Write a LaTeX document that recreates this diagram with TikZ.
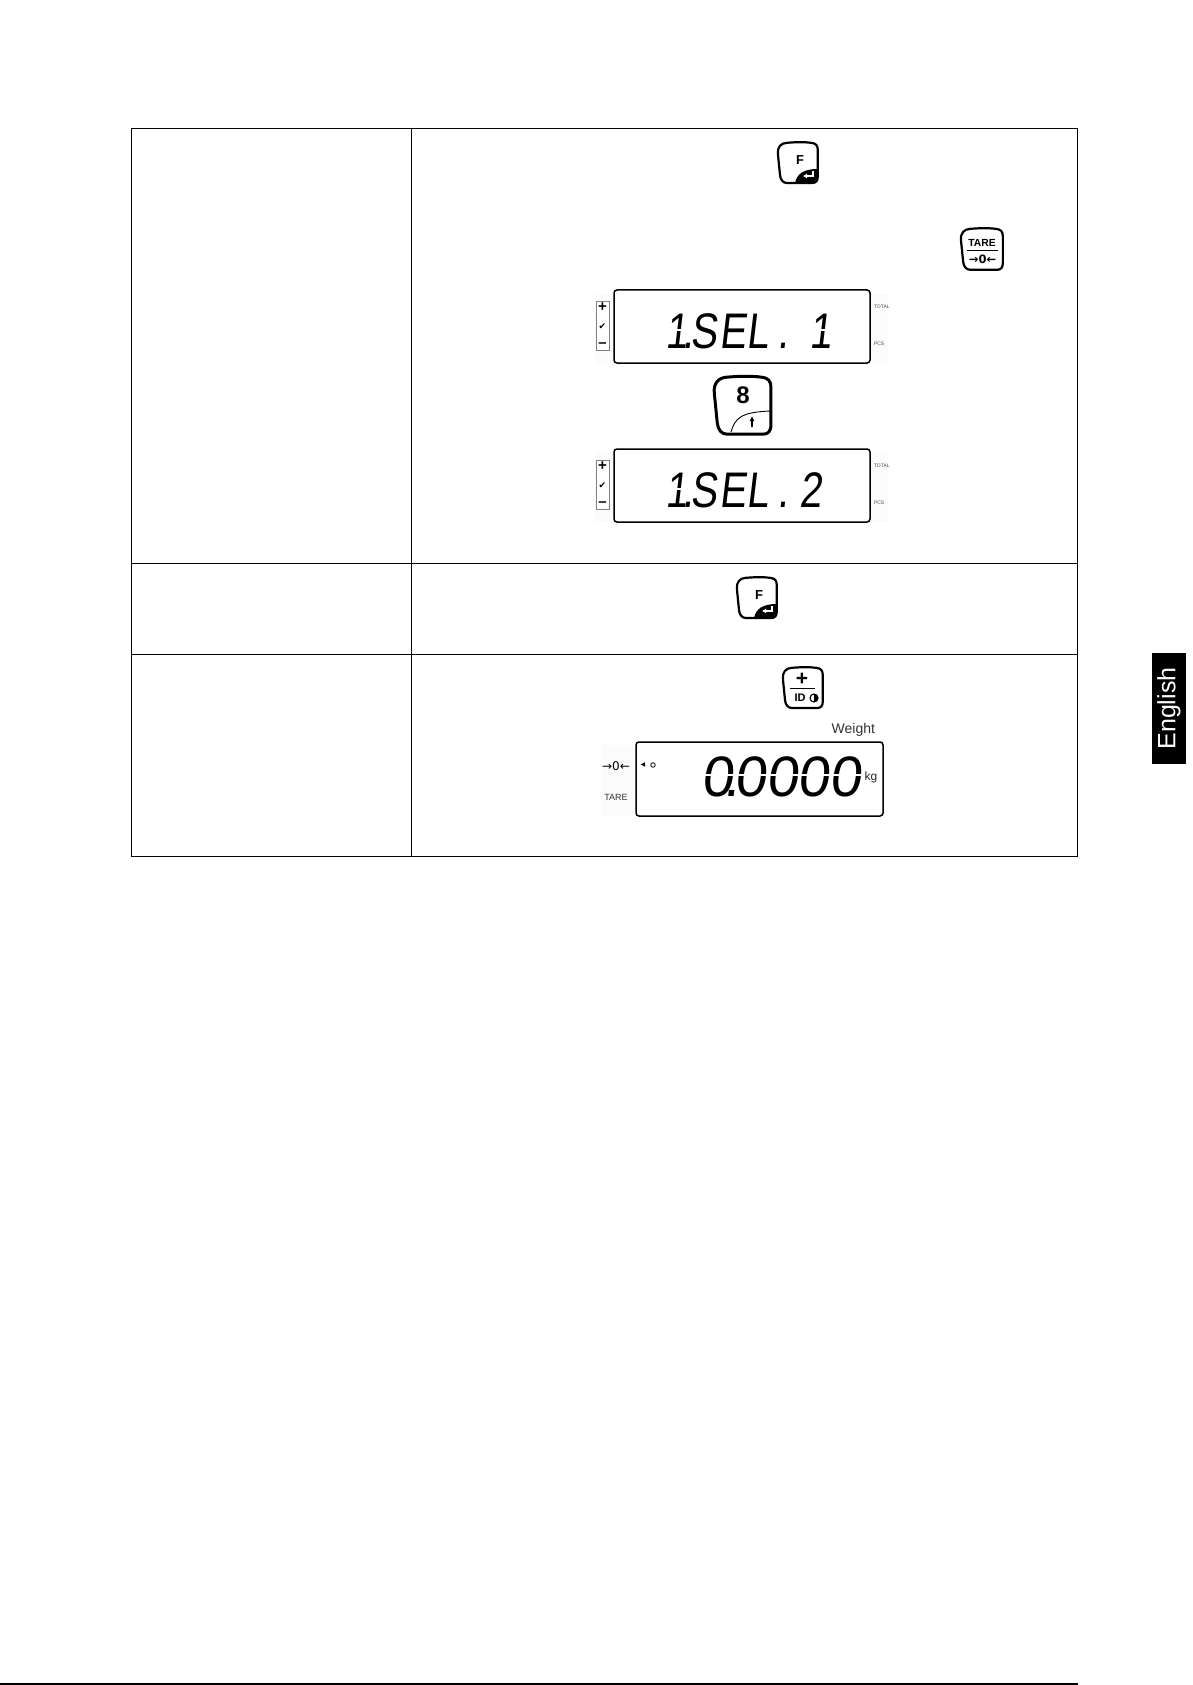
\documentclass[tikz,border=0pt]{standalone}
\usepackage{fontspec}
\setmainfont{Liberation Sans}
\newfontfamily\symfont{DejaVu Sans}
\newfontfamily\segfont[FakeStretch=.8,FakeSlant=.12]{Liberation Sans}
\newfontfamily\segwide[FakeSlant=.12]{Liberation Sans}
\usetikzlibrary{arrows.meta}
\newcommand{\sz}[1]{\fontsize{#1}{#1}\selectfont}
% outline of a key, 41 wide and high
\newcommand{\keyoutline}[1][]{\draw[keyline,#1] (10,0.8) .. controls (20,0) and (28,0) .. (34,0.8)
  .. controls (39,1.5) and (40.5,3) .. (40.8,8) -- (40.8,34) .. controls (40.8,39) and (39,41) .. (35,41)
  -- (10,41) .. controls (6,41) and (3.5,38) .. (3,33) -- (0.9,12) .. controls (0.2,5) and (4,1) .. (10,0.8) -- cycle;}
% F key, top left corner at (#1,#2)
\newcommand{\keyF}[3]{\begin{scope}[shift={(#1,#2)}]
 \fill (18,41) .. controls (20,32) and (26,27) .. (41,27) -- (41,36) -- (36,41) -- cycle;
 \keyoutline
 \node[t, font=\bfseries\sz{13}] (#3l) at (23,18) {F};
 \draw[{Latex[length=4pt,width=5pt]}-, white, line width=1.4pt] (26,34) -- (36,34) -- (36,29);
\end{scope}}
% display with the small signs, top left corner at (#1,#2)
\newcommand{\selbox}[3]{\begin{scope}[shift={(#1,#2)}]
 \fill[black!1.5] (-19,4) rectangle (274,73);
 \draw[lcd, fill=white] (0,0) rectangle (256,73);
 \draw[black!50, fill=white, line width=.7pt] (-18,11) rectangle (-5,60);
 \node[t, font=\bfseries\sz{15}] (#3p) at (-11.5,17.5) {+};
 \node[t, font=\symfont\bfseries\sz{9}] (#3c) at (-11.5,37) {✔};
 \node[t, font=\bfseries\sz{15}] (#3m) at (-11.5,55) {–};
 \node[t, font=\sz{5}, black!70, anchor=west] (#3t) at (260,17) {TOTAL};
 \node[t, font=\sz{5}, black!70, anchor=west] (#3s) at (260,54) {PCS};
\end{scope}}
\begin{document}
\begin{tikzpicture}[x=1pt, y=-1pt,
  t/.style={inner sep=0pt, outer sep=0pt},
  grid/.style={line width=.9pt},
  keyline/.style={line width=2.2pt},
  slit/.style={white, line width=1.4pt},
  lcd/.style={line width=1.5pt, rounded corners=3pt}]
 \useasboundingbox (0,0) rectangle (1192,1685);
 % table
 \draw[grid] (131,128) rectangle (1077,856);
 \draw[grid] (411.5,128) -- (411.5,856);
 \draw[grid] (131,563) -- (1077,563);
 \draw[grid] (131,654) -- (1077,654);
 % first row
 \keyF{777}{142}{fa}
 \begin{scope}[shift={(960,228)}]
  \keyoutline[xscale=1.05, yscale=1.02]
  \node[t, font=\bfseries\sz{10.3}] (tarel) at (22,15) {TARE};
  \draw[line width=1.4pt] (7,22.5) -- (38,22.5);
  \node[t, font=\symfont\bfseries\sz{11.5}] (tarez) at (22.5,31) {→0←};
 \end{scope}
 \selbox{614}{290}{da}
 \node[t, font=\segfont\sz{50}, anchor=base west] (sela) at (665,348) {1\kern-5pt.\kern-2.5ptS\kern2.3ptEL\kern9pt.\kern21pt 1};
 \draw[slit] (668,330) -- (688,330);
 \draw[slit] (812,330) -- (836,330);
 % up key
 \begin{scope}[shift={(713,376)}]
  \keyoutline[scale=1.42, line width=3pt]
  \draw[line width=.9pt] (18,56) .. controls (22,42) and (28,36) .. (58,35);
  \node[t, font=\bfseries\sz{24}] (upl) at (30,19) {8};
  \draw[-{Latex[length=5pt,width=5pt]}, line width=1.4pt] (39,51) -- (39,40);
 \end{scope}
 \selbox{614}{449}{db}
 \node[t, font=\segfont\sz{50}, anchor=base west] (selb) at (665,507) {1\kern-5pt.\kern-2.5ptS\kern2.3ptEL\kern9pt.\kern11pt 2};
 \draw[slit] (668,489) -- (688,489);
 % second row
 \keyF{736}{577}{fb}
 % third row
 \begin{scope}[shift={(782,667)}]
  \keyoutline
  \node[t, font=\bfseries\sz{21}] (idp) at (20,12) {+};
  \draw[line width=1.4pt] (8,21.5) -- (33,21.5);
  \node[t, font=\bfseries\sz{11}] (idl) at (18,31) {ID};
  \draw[line width=1.1pt] (32,31) circle (4);
  \fill (32,31) -- (32,27) arc[start angle=90, end angle=-90, radius=4pt] -- cycle;
 \end{scope}
 \fill[black!1.5] (601,745) rectangle (636,816);
 \draw[lcd, fill=white] (636,742) rectangle (883,816);
 \node[t, font=\sz{14}, black!80, anchor=east] (wgt) at (875,730) {Weight};
 \node[t, font=\symfont\sz{12}] (zero) at (616,766) {→0←};
 \node[t, font=\sz{9}, black!80] (tare) at (616,797) {TARE};
 \node[t, font=\symfont\sz{6}] (mark) at (643,765) {◀};
 \node[t, circle, draw, line width=.8pt, minimum size=4.5pt] (ring) at (653,765) {};
 \node[t, font=\segwide\sz{57}, anchor=base west] (val) at (701,796) {0\kern-9.7pt.\kern-4.3pt0000};
 \draw[slit] (701,775) -- (862,775);
 \node[t, font=\sz{12}, black!85] (unit) at (871,777) {kg};
 % side tab and foot
 \fill (1152,653) rectangle (1186,764);
 \node[t, font=\sz{25}, white, rotate=90] (lang) at (1169,708.5) {English};
 \draw[line width=1.4pt] (0,1684) -- (1078,1684);
\end{tikzpicture}
\end{document}
